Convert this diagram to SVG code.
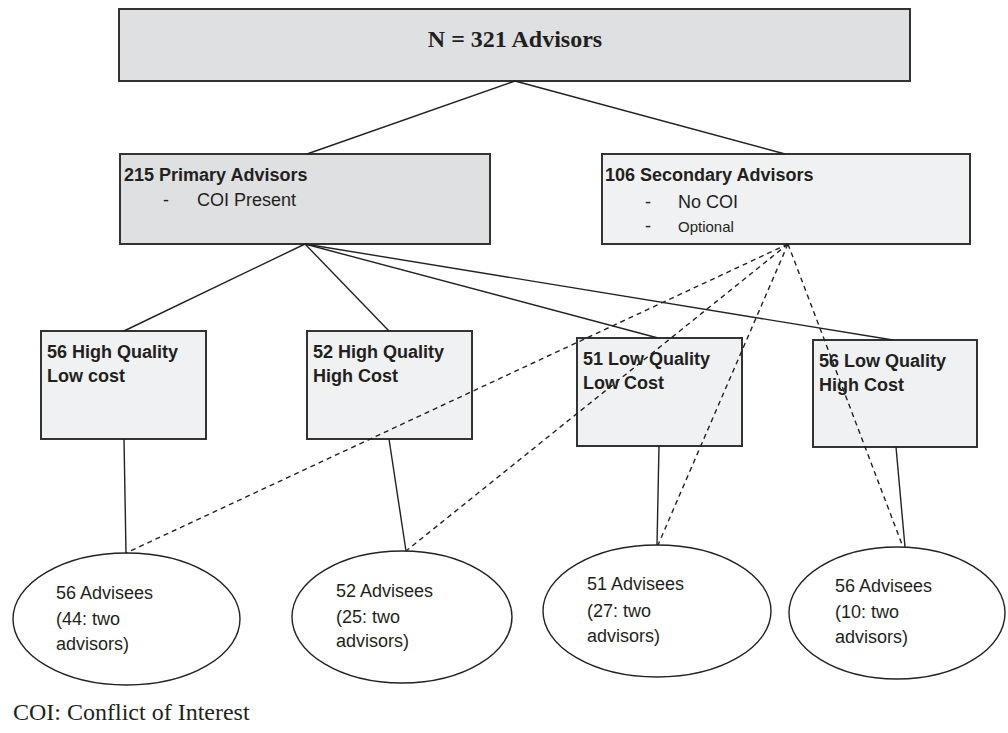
<svg xmlns="http://www.w3.org/2000/svg" width="1008" height="733" viewBox="0 0 1008 733">
<style>
.bg{fill:#ffffff}
.dark{fill:#dfe0e2;stroke:#333;stroke-width:2}
.light{fill:#f0f1f2;stroke:#333;stroke-width:2}
.ell{fill:#ffffff;stroke:#222;stroke-width:1.4}
.ln{stroke:#222;stroke-width:1.4;fill:none}
.dash{stroke:#222;stroke-width:1.4;fill:none;stroke-dasharray:5,4}
.hb{font-family:"Liberation Sans",Arial,sans-serif;font-weight:bold;font-size:18px;fill:#231f20}
.tx{font-family:"Liberation Sans",Arial,sans-serif;font-size:18px;fill:#231f20}
.sm{font-family:"Liberation Sans",Arial,sans-serif;font-size:15px;fill:#231f20}
.tm{font-family:"Liberation Serif","Times New Roman",serif;fill:#231f20}
</style>
<rect class="bg" x="0" y="0" width="1008" height="733"/>
<g id="total">
<rect class="dark" x="119" y="9" width="791" height="72"/>
<text class="tm" x="515" y="47" font-size="24" font-weight="bold" text-anchor="middle">N = 321 Advisors</text>
</g>
<g id="primary">
<rect class="dark" x="120" y="154" width="370" height="90"/>
<text class="hb" x="124" y="181">215 Primary Advisors</text>
<text class="tx" x="163" y="206">-</text>
<text class="tx" x="197" y="206">COI Present</text>
</g>
<g id="secondary">
<rect class="light" x="602" y="154" width="368" height="90"/>
<text class="hb" x="605" y="181">106 Secondary Advisors</text>
<text class="tx" x="645" y="208">-</text>
<text class="tx" x="678" y="208">No COI</text>
<text class="tx" x="645" y="232">-</text>
<text class="sm" x="678" y="232">Optional</text>
</g>
<g id="hqlc">
<rect class="light" x="41" y="331" width="165" height="108"/>
<text class="hb" x="47" y="358">56 High Quality</text>
<text class="hb" x="47" y="382">Low cost</text>
</g>
<g id="hqhc">
<rect class="light" x="307" y="331" width="165" height="108"/>
<text class="hb" x="313" y="358">52 High Quality</text>
<text class="hb" x="313" y="382">High Cost</text>
</g>
<g id="lqlc">
<rect class="light" x="577" y="338" width="165" height="108"/>
<text class="hb" x="583" y="365">51 Low Quality</text>
<text class="hb" x="583" y="389">Low Cost</text>
</g>
<g id="lqhc">
<rect class="light" x="813" y="340" width="164" height="107"/>
<text class="hb" x="819" y="367">56 Low Quality</text>
<text class="hb" x="819" y="391">High Cost</text>
</g>
<g id="adv1">
<ellipse class="ell" cx="126.5" cy="619" rx="113.5" ry="66"/>
<text class="tx" x="56" y="599">56 Advisees</text>
<text class="tx" x="56" y="625">(44: two</text>
<text class="tx" x="56" y="650">advisors)</text>
</g>
<g id="adv2">
<ellipse class="ell" cx="402" cy="617" rx="110" ry="66"/>
<text class="tx" x="336" y="597">52 Advisees</text>
<text class="tx" x="336" y="623">(25: two</text>
<text class="tx" x="336" y="647">advisors)</text>
</g>
<g id="adv3">
<ellipse class="ell" cx="657" cy="611" rx="114" ry="66"/>
<text class="tx" x="587" y="590">51 Advisees</text>
<text class="tx" x="587" y="617">(27: two</text>
<text class="tx" x="587" y="642">advisors)</text>
</g>
<g id="adv4">
<ellipse class="ell" cx="897" cy="613" rx="108" ry="66"/>
<text class="tx" x="835" y="592">56 Advisees</text>
<text class="tx" x="835" y="618">(10: two</text>
<text class="tx" x="835" y="643">advisors)</text>
</g>
<g id="connectors">
<line class="ln" x1="515" y1="81" x2="307" y2="154"/>
<line class="ln" x1="515" y1="81" x2="785" y2="154"/>
<line class="ln" x1="305" y1="244" x2="124" y2="331"/>
<line class="ln" x1="305" y1="244" x2="389" y2="331"/>
<line class="ln" x1="305" y1="244" x2="658" y2="338"/>
<line class="ln" x1="305" y1="244" x2="893" y2="340"/>
<line class="ln" x1="124" y1="439" x2="126" y2="553"/>
<line class="ln" x1="389" y1="439" x2="406" y2="551"/>
<line class="ln" x1="659" y1="446" x2="657" y2="545"/>
<line class="ln" x1="896" y1="447" x2="905" y2="547"/>
<line class="dash" x1="788" y1="244" x2="126" y2="553"/>
<line class="dash" x1="788" y1="244" x2="406" y2="551"/>
<line class="dash" x1="788" y1="244" x2="658" y2="545"/>
<line class="dash" x1="788" y1="244" x2="903" y2="547"/>
</g>
<text class="tm" x="13" y="720" font-size="24">COI: Conflict of Interest</text>
</svg>
